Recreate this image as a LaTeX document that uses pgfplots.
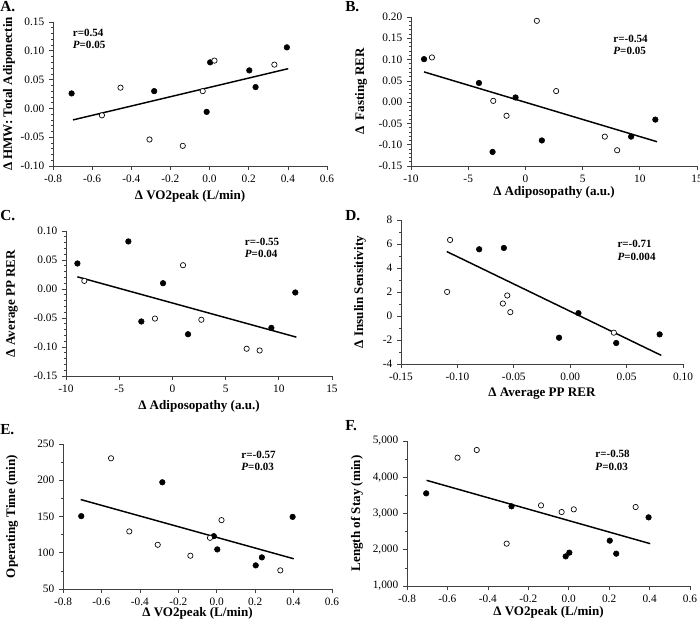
\documentclass[border=0pt]{standalone}
\usepackage{fontspec}
\setmainfont{Liberation Serif}
\usepackage{pgfplots}
\pgfplotsset{compat=1.18}
\pgfplotsset{
 panel/.style={
  scale only axis, axis x line*=bottom, axis y line*=left,
  axis line style={-, black!75, line width=0.6pt},
  tick align=outside, tick style={black!75, line width=0.5pt},
  major tick length=3pt, minor tick length=1.6pt,
  minor y tick num=1,
  ticklabel style={font=\fontsize{8.5}{10}\selectfont},
  label style={font=\fontsize{9.8}{11}\selectfont\bfseries},
  /pgf/number format/assume math mode=true,
  anchor=south west, clip=false,
 },
 filled/.style={only marks, mark=*, mark size=2.1pt, mark options={fill=black, draw=black}},
 open/.style={only marks, mark=*, mark size=2pt, mark options={fill=white, draw=black, line width=0.5pt}},
 fit/.style={no marks, black, line width=1.1pt},
 xone/.style={xticklabel style={/pgf/number format/.cd, fixed, fixed zerofill, precision=1}},
 xtwo/.style={xticklabel style={/pgf/number format/.cd, fixed, fixed zerofill, precision=2}},
 ytwo/.style={yticklabel style={/pgf/number format/.cd, fixed, fixed zerofill, precision=2}},
}
\newcommand{\ann}[1]{\fontsize{8.3}{9}\selectfont\bfseries #1}
\begin{document}
\begin{tikzpicture}
\path[use as bounding box] (0pt,0pt) rectangle (525pt,-468pt);
% panel letters
\node[anchor=north west, inner sep=0pt, font=\fontsize{11.5}{12}\selectfont\bfseries] at (0pt,-1pt) {A.};
\node[anchor=north west, inner sep=0pt, font=\fontsize{11.5}{12}\selectfont\bfseries] at (258.75pt,-1pt) {B.};
\node[anchor=north west, inner sep=0pt, font=\fontsize{11.5}{12}\selectfont\bfseries] at (0pt,-157.5pt) {C.};
\node[anchor=north west, inner sep=0pt, font=\fontsize{11.5}{12}\selectfont\bfseries] at (258.75pt,-157.5pt) {D.};
\node[anchor=north west, inner sep=0pt, font=\fontsize{11.5}{12}\selectfont\bfseries] at (0pt,-318.5pt) {E.};
\node[anchor=north west, inner sep=0pt, font=\fontsize{11.5}{12}\selectfont\bfseries] at (258.75pt,-315pt) {F.};

% ---------------- A
\begin{axis}[panel, xone, ytwo,
  at={(39.75pt,-124.5pt)}, width=205.5pt, height=108pt,
  minor y tick num=4,
  xmin=-0.8, xmax=0.6, xtick={-0.8,-0.6,-0.4,-0.2,0,0.2,0.4,0.6},
  ymin=-0.10, ymax=0.15, ytick={-0.10,-0.05,0,0.05,0.10,0.15},
  xlabel={Δ VO2peak (L/min)}, ylabel={Δ HMW: Total Adiponectin},
  xlabel style={at={([yshift=-23pt]axis description cs:0.5,0)}, anchor=center},
  ylabel style={at={([xshift=-33pt]axis description cs:0,0.5)}, anchor=center},
]
\addplot[fit] coordinates {(-0.698,-0.020) (0.402,0.069)};
\addplot[filled] coordinates {(-0.705,0.026) (-0.283,0.030) (-0.015,-0.006) (0.003,0.080) (0.203,0.066) (0.235,0.037) (0.395,0.106)};
\addplot[open] coordinates {(-0.550,-0.012) (-0.455,0.036) (-0.307,-0.054) (-0.137,-0.065) (-0.035,0.030) (0.025,0.083) (0.331,0.076)};
\node[anchor=west, inner sep=0pt] at (axis cs:-0.70,0.131) {\ann{r=0.54}};
\node[anchor=west, inner sep=0pt] at (axis cs:-0.70,0.110) {\ann{\textit{P}=0.05}};
\end{axis}

% ---------------- B
\begin{axis}[panel, ytwo,
  at={(308.25pt,-124.5pt)}, width=214.5pt, height=111.75pt,
  minor y tick num=4,
  xmin=-10, xmax=15, xtick={-10,-5,0,5,10,15},
  ymin=-0.15, ymax=0.20, ytick={-0.15,-0.10,-0.05,0,0.05,0.10,0.15,0.20},
  xlabel={Δ Adiposopathy (a.u.)}, ylabel={Δ \ Fasting RER},
  xlabel style={at={([yshift=-20pt]axis description cs:0.5,0)}, anchor=center},
  ylabel style={at={([xshift=-37.5pt]axis description cs:0,0.5)}, anchor=center},
]
\addplot[fit] coordinates {(-8.86,0.071) (11.51,-0.093)};
\addplot[filled] coordinates {(-8.86,0.101) (-4.06,0.045) (-2.87,-0.117) (-0.86,0.011) (1.44,-0.090) (9.24,-0.081) (11.36,-0.041)};
\addplot[open] coordinates {(-8.17,0.105) (-2.81,0.003) (-1.65,-0.032) (1.00,0.191) (2.69,0.026) (6.94,-0.081) (8.02,-0.113)};
\node[anchor=west, inner sep=0pt] at (axis cs:7.67,0.149) {\ann{r=-0.54}};
\node[anchor=west, inner sep=0pt] at (axis cs:7.67,0.121) {\ann{\textit{P}=0.05}};
\end{axis}

% ---------------- C
\begin{axis}[panel, ytwo,
  at={(49.5pt,-282pt)}, width=199.5pt, height=108.75pt,
  minor y tick num=4,
  xmin=-10, xmax=15, xtick={-10,-5,0,5,10,15},
  ymin=-0.15, ymax=0.10, ytick={-0.15,-0.10,-0.05,0,0.05,0.10},
  xlabel={Δ Adiposopathy (a.u.)}, ylabel={Δ Average PP RER},
  xlabel style={at={([yshift=-23pt]axis description cs:0.5,0)}, anchor=center},
  ylabel style={at={([xshift=-40.5pt]axis description cs:0,0.5)}, anchor=center},
]
\addplot[fit] coordinates {(-8.93,0.021) (11.65,-0.083)};
\addplot[filled] coordinates {(-8.93,0.044) (-4.14,0.082) (-2.92,-0.056) (-0.88,0.010) (1.47,-0.078) (9.30,-0.067) (11.55,-0.006)};
\addplot[open] coordinates {(-8.28,0.014) (-1.64,-0.051) (1.00,0.041) (2.72,-0.053) (6.98,-0.103) (8.20,-0.106)};
\node[anchor=west, inner sep=0pt] at (axis cs:6.79,0.082) {\ann{r=-0.55}};
\node[anchor=west, inner sep=0pt] at (axis cs:6.79,0.060) {\ann{\textit{P}=0.04}};
\end{axis}

% ---------------- D
\begin{axis}[panel, xtwo,
  at={(300.75pt,-273pt)}, width=211.5pt, height=108pt,
  xmin=-0.15, xmax=0.10, xtick={-0.15,-0.10,-0.05,0,0.05,0.10},
  ymin=-4, ymax=8, ytick={-4,-2,0,2,4,6,8},
  xlabel={Δ Average PP RER}, ylabel={Δ Insulin Sensitivity},
  xlabel style={at={([yshift=-22pt]axis description cs:0.5,0)}, anchor=center},
  ylabel style={at={([xshift=-30.75pt]axis description cs:0,0.5)}, anchor=center},
]
\addplot[fit] coordinates {(-0.1094,5.37) (0.0807,-3.28)};
\addplot[filled] coordinates {(-0.0807,5.56) (-0.0588,5.67) (-0.0099,-1.81) (0.0073,0.24) (0.0408,-2.25) (0.0793,-1.53)};
\addplot[open] coordinates {(-0.1065,6.34) (-0.1091,2.01) (-0.0597,1.04) (-0.0558,1.71) (-0.0531,0.32) (0.0387,-1.39)};
\node[anchor=west, inner sep=0pt] at (axis cs:0.0417,5.98) {\ann{r=-0.71}};
\node[anchor=west, inner sep=0pt] at (axis cs:0.0417,4.95) {\ann{\textit{P}=0.004}};
\end{axis}

% ---------------- E
\begin{axis}[panel, xone,
  at={(47.25pt,-441.75pt)}, width=201.75pt, height=108.75pt,
  xmin=-0.8, xmax=0.6, xtick={-0.8,-0.6,-0.4,-0.2,0,0.2,0.4,0.6},
  ymin=50, ymax=250, ytick={50,100,150,200,250},
  xlabel={Δ VO2peak (L/min)}, ylabel={Operating Time (min)},
  xlabel style={at={([yshift=-18pt]axis description cs:0.5,0)}, anchor=center},
  ylabel style={at={([xshift=-38.25pt]axis description cs:0,0.5)}, anchor=center},
]
\addplot[fit] coordinates {(-0.708,173.4) (0.401,91.7)};
\addplot[filled] coordinates {(-0.705,150.5) (-0.283,197.2) (-0.015,122.9) (0.003,104.6) (0.203,82.6) (0.235,93.6) (0.395,149.5)};
\addplot[open] coordinates {(-0.550,230.3) (-0.455,129.4) (-0.307,111.0) (-0.137,95.9) (-0.035,120.6) (0.025,145.0) (0.331,75.7)};
\node[anchor=west, inner sep=0pt] at (axis cs:0.127,234.9) {\ann{r=-0.57}};
\node[anchor=west, inner sep=0pt] at (axis cs:0.127,218.8) {\ann{\textit{P}=0.03}};
\end{axis}

% ---------------- F
\begin{axis}[panel, xone,
  at={(305.25pt,-439.5pt)}, width=212.25pt, height=108.75pt,
  xmin=-0.8, xmax=0.6, xtick={-0.8,-0.6,-0.4,-0.2,0,0.2,0.4,0.6},
  ymin=1000, ymax=5000, ytick={1000,2000,3000,4000,5000},
  scaled y ticks=false,
  yticklabel style={/pgf/number format/.cd, 1000 sep={,}, min exponent for 1000 sep=0},
  xlabel={Δ VO2peak (L/min)}, ylabel={Length of Stay (min)},
  xlabel style={at={([yshift=-19.5pt]axis description cs:0.5,0)}, anchor=center},
  ylabel style={at={([xshift=-37.5pt]axis description cs:0,0.5)}, anchor=center},
]
\addplot[fit] coordinates {(-0.703,3915) (0.403,2168)};
\addplot[filled] coordinates {(-0.705,3556) (-0.283,3198) (-0.015,1818) (0.003,1920) (0.203,2251) (0.235,1892) (0.395,2894)};
\addplot[open] coordinates {(-0.550,4540) (-0.455,4752) (-0.307,2168) (-0.137,3225) (-0.035,3041) (0.025,3115) (0.331,3179)};
\node[anchor=west, inner sep=0pt] at (axis cs:0.131,4632) {\ann{r=-0.58}};
\node[anchor=west, inner sep=0pt] at (axis cs:0.131,4283) {\ann{\textit{P}=0.03}};
\end{axis}
\end{tikzpicture}
\end{document}
